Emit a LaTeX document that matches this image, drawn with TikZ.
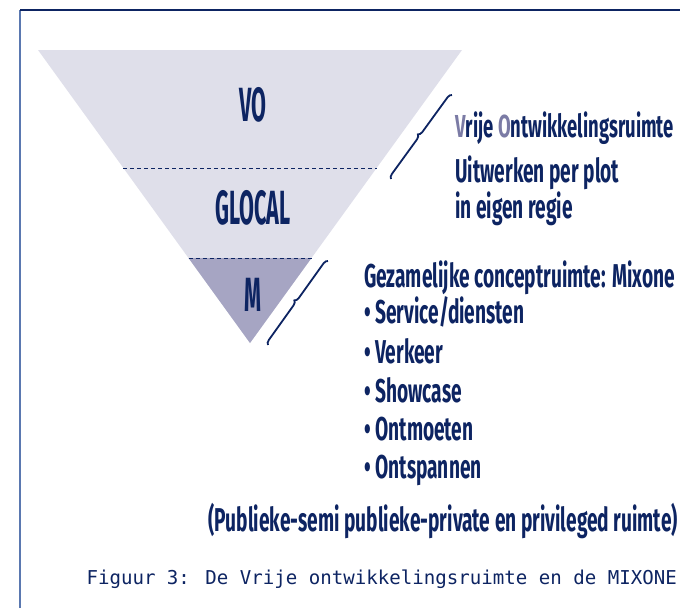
\documentclass[tikz,border=0pt]{standalone}
\usepackage{fontspec}
\usetikzlibrary{positioning,calc,decorations.pathreplacing}

\newfontfamily\agency[FakeStretch=0.58]{Fira Sans}
\newfontfamily\agencylbl[FakeStretch=0.45]{Fira Sans}
\newfontfamily\capmono{DejaVu Sans Mono}

\definecolor{navy}{HTML}{0D2462}
\definecolor{vlakLicht}{HTML}{DFDFEA}
\definecolor{vlakDonker}{HTML}{A6A5C3}
\definecolor{accent}{HTML}{7B7BA5}
\definecolor{randBlauw}{HTML}{5A78B0}

\begin{document}
\begin{tikzpicture}[
  x=1pt, y=-1pt,
  lbl/.style={text=navy, font=\agencylbl\bfseries\fontsize{48}{48}\selectfont, inner sep=0pt},
  txt/.style={text=navy, font=\agency\bfseries\fontsize{33}{33}\selectfont, inner sep=0pt, anchor=base west},
  scheiding/.style={navy, line width=0.9pt, dash pattern=on 4pt off 3pt},
  accolade/.style={navy, line width=1.8pt, decorate, decoration={brace, amplitude=4.5pt}}
]
\useasboundingbox (0,0) rectangle (680,608);

% Kader (boven en links)
\coordinate (k_lo) at (20,608);
\coordinate (k_lb) at (20,10);
\coordinate (k_rb) at (680,10);
\draw[randBlauw, line width=1.6pt] (k_lo) -- (k_lb);
\draw[navy, line width=2pt] (k_lb) -- (k_rb);

% Driehoek (trechter)
\coordinate (tl) at (38,50);
\coordinate (tr) at (462,50);
\coordinate (apex) at (250,343);
\fill[vlakLicht] (tl) -- (tr) -- (apex) -- cycle;

% Grenzen tussen de lagen
\coordinate (s1l) at ($(tl)!0.4027!(apex)$);
\coordinate (s1r) at ($(tr)!0.4027!(apex)$);
\coordinate (s2l) at ($(tl)!0.7099!(apex)$);
\coordinate (s2r) at ($(tr)!0.7099!(apex)$);
\fill[vlakDonker] (s2l) -- (s2r) -- (apex) -- cycle;
\draw[scheiding] (s1l) -- (s1r);
\draw[scheiding] (s2l) -- (s2r);

% Lagen
\node[lbl] (vo) at (253,105) {VO};
\node[lbl] (glocal) at (253,208) {GLOCAL};
\node[lbl] (m) at (253,295) {M};

% Accolades
\coordinate (b1s) at (391,179);
\coordinate (b1e) at (452,95);
\draw[accolade] (b1s) -- (b1e);
\coordinate (b2s) at (268,345);
\coordinate (b2e) at (328,261);
\draw[accolade] (b2s) -- (b2e);

% Vrije Ontwikkelingsruimte
\node[txt, font=\agency\bfseries\fontsize{31.8}{31.8}\selectfont] (vrij) at (455,137) {\textcolor{accent}{V}rije \textcolor{accent}{O}ntwikkelingsruimte};
\node[txt] (uitw) at (455,182) {Uitwerken per plot};
\node[txt] (regie) at (455,218) {in eigen regie};

% Mixone
\node[txt] (mix) at (364,287) {Gezamelijke conceptruimte: Mixone};
\node[txt] (it1) at (364,323) {• Service/diensten};
\node[txt] (it2) at (364,363) {• Verkeer};
\node[txt] (it3) at (364,402) {• Showcase};
\node[txt] (it4) at (364,440) {• Ontmoeten};
\node[txt] (it5) at (364,478) {• Ontspannen};

% Ruimtes
\node[txt, anchor=base east] (ruimte) at (678,531) {(Publieke-semi publieke-private en privileged ruimte)};

% Bijschrift
\node[text=navy, font=\capmono\fontsize{19.1}{19.1}\selectfont, inner sep=0pt, anchor=base east] (bijschrift) at (677,584) {Figuur 3: De Vrije ontwikkelingsruimte en de MIXONE};

\end{tikzpicture}
\end{document}
